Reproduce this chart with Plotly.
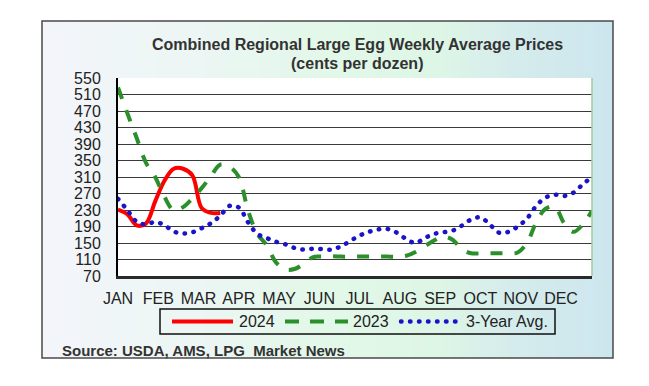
import plotly.graph_objects as go

# ---------------- data ----------------
weeks = list(range(52))
month_labels = ["JAN", "FEB", "MAR", "APR", "MAY", "JUN", "JUL", "AUG", "SEP", "OCT", "NOV", "DEC"]
month_pos = [i * 52 / 12 for i in range(12)]
y_ticks = list(range(70, 551, 40))

price_2024 = [231, 220, 193, 197, 251, 301, 330, 330, 314, 235, 223, 223]

price_2023 = [527, 465, 405, 345, 310, 262, 229, 237, 258, 283,
              312, 340, 335, 310, 228, 172, 145, 103, 86, 87,
              100, 116, 117, 118, 117, 117, 117, 117, 117, 117,
              117, 119, 128, 142, 156, 166, 158, 135, 125, 125,
              125, 125, 125, 127, 150, 200, 233, 238, 198, 177,
              195, 228]

avg_3yr = [257, 230, 202, 195, 201, 193, 178, 173, 176, 186,
           198, 216, 240, 236, 200, 172, 162, 153, 147, 138,
           134, 136, 135, 134, 142, 155, 168, 177, 183, 184,
           175, 160, 150, 162, 172, 176, 180, 192, 207, 212,
           195, 175, 177, 190, 209, 240, 260, 267, 264, 272,
           292, 310]

# ---------------- geometry helpers (pixel -> paper) ----------------
W, H = 649, 386
ML, MR, MT, MB = 118, 57, 78, 110
PW, PH = W - ML - MR, H - MT - MB


def px(x):
    return (x - ML) / PW


def py(y):
    return (H - MB - y) / PH


FONT = "Arial, Liberation Sans, sans-serif"
RED = "#ff0000"
GREEN = "#2b8f2b"
BLUE = "#1a14c8"
DOT = "0.5px,8.5px"

fig = go.Figure()
fig.add_trace(go.Scatter(x=weeks[:len(price_2024)], y=price_2024, mode="lines",
                         line=dict(color=RED, width=4, shape="spline"),
                         showlegend=False, hoverinfo="skip"))
fig.add_trace(go.Scatter(x=weeks, y=price_2023, mode="lines",
                         line=dict(color=GREEN, width=4, shape="spline", dash="12px,12px"),
                         showlegend=False, hoverinfo="skip"))
fig.add_trace(go.Scatter(x=weeks, y=avg_3yr, mode="lines",
                         line=dict(color=BLUE, width=4.5, shape="spline", dash=DOT),
                         showlegend=False, hoverinfo="skip"))

shapes = []
# background gradient of the chart frame
stops = [(42, (243, 245, 250)), (200, (236, 246, 244)), (330, (226, 248, 232)),
         (440, (222, 246, 230)), (500, (214, 237, 236)), (613, (205, 230, 238))]


def col_at(x):
    for (xa, ca), (xb, cb) in zip(stops[:-1], stops[1:]):
        if xa <= x <= xb:
            t = (x - xa) / (xb - xa)
            return tuple(round(ca[i] + (cb[i] - ca[i]) * t) for i in range(3))
    return stops[-1][1]


nstrip = 60
x0b, x1b = 42, 613
step = (x1b - x0b) / nstrip
for i in range(nstrip):
    xa = x0b + i * step
    c = col_at(xa + step / 2)
    shapes.append(dict(type="rect", xref="paper", yref="paper",
                       x0=px(xa), x1=px(min(xa + step + 0.8, x1b)), y0=py(358), y1=py(21),
                       fillcolor="rgb(%d,%d,%d)" % c, line=dict(width=0), layer="below"))
# plot area white
shapes.append(dict(type="rect", xref="paper", yref="paper", x0=0, x1=1, y0=0, y1=1,
                   fillcolor="white", line=dict(width=0), layer="below"))
# outer border
shapes.append(dict(type="rect", xref="paper", yref="paper", x0=px(42), x1=px(613), y0=py(358), y1=py(21),
                   fillcolor="rgba(0,0,0,0)", line=dict(color="#4a4a4a", width=1.5), layer="above"))
# right edge of plot area
shapes.append(dict(type="line", xref="paper", yref="paper", x0=1, x1=1, y0=0, y1=1,
                   line=dict(color="#9ccc9c", width=1.5), layer="above"))

# legend
shapes.append(dict(type="rect", xref="paper", yref="paper", x0=px(160), x1=px(555), y0=py(334), y1=py(309),
                   fillcolor="rgba(0,0,0,0)", line=dict(color="#111", width=1.5), layer="above"))
ly = py(321.5)
shapes.append(dict(type="line", xref="paper", yref="paper", x0=px(172), x1=px(233), y0=ly, y1=ly,
                   line=dict(color=RED, width=4)))
shapes.append(dict(type="line", xref="paper", yref="paper", x0=px(285), x1=px(348), y0=ly, y1=ly,
                   line=dict(color=GREEN, width=4, dash="14px,11px")))
shapes.append(dict(type="line", xref="paper", yref="paper", x0=px(401), x1=px(460), y0=ly, y1=ly,
                   line=dict(color=BLUE, width=4.5, dash=DOT)))

annotations = [
    dict(text="<b>Combined Regional Large Egg Weekly Average Prices</b>", x=px(357), y=py(44),
         xref="paper", yref="paper", showarrow=False, xanchor="center", yanchor="middle",
         font=dict(family=FONT, size=16, color="#333")),
    dict(text="<b>(cents per dozen)</b>", x=px(357), y=py(63),
         xref="paper", yref="paper", showarrow=False, xanchor="center", yanchor="middle",
         font=dict(family=FONT, size=16, color="#333")),
    dict(text="2024", x=px(237), y=ly, xref="paper", yref="paper", showarrow=False,
         xanchor="left", yanchor="middle", font=dict(family=FONT, size=16, color="#222")),
    dict(text="2023", x=px(351), y=ly, xref="paper", yref="paper", showarrow=False,
         xanchor="left", yanchor="middle", font=dict(family=FONT, size=16, color="#222")),
    dict(text="3-Year Avg.", x=px(464), y=ly, xref="paper", yref="paper", showarrow=False,
         xanchor="left", yanchor="middle", font=dict(family=FONT, size=16, color="#222")),
    dict(text="<b>Source: USDA, AMS, LPG  Market News</b>", x=px(60), y=py(350),
         xref="paper", yref="paper", showarrow=False, xanchor="left", yanchor="middle",
         font=dict(family=FONT, size=15, color="#333")),
]

fig.update_layout(
    width=W, height=H, autosize=False,
    margin=dict(l=ML, r=MR, t=MT, b=MB, pad=0),
    paper_bgcolor="white", plot_bgcolor="white",
    shapes=shapes, annotations=annotations,
    font=dict(family=FONT, size=16, color="#222"),
    xaxis=dict(range=[0, 51], tickvals=month_pos, ticktext=month_labels,
               showgrid=False, zeroline=False, showline=True, linecolor="#2a2a2a", linewidth=3,
               ticks="outside", ticklen=6, tickcolor="rgba(0,0,0,0)",
               tickfont=dict(family=FONT, size=16, color="#222"), fixedrange=True),
    yaxis=dict(range=[70, 550], tickvals=y_ticks, showgrid=True, gridcolor="#3a3a3a", gridwidth=1,
               zeroline=False, showline=True, linecolor="#000", linewidth=2,
               ticks="outside", ticklen=12, tickcolor="rgba(0,0,0,0)",
               tickfont=dict(family=FONT, size=16, color="#222"), fixedrange=True),
)

post = """
document.body.style.margin = '0';
document.body.style.overflow = 'hidden';
var gd = document.getElementById('{plot_id}');
gd.querySelectorAll('path').forEach(function (p) {
  var d = p.style.strokeDasharray || p.getAttribute('stroke-dasharray') || '';
  if (d.replace(/\\s/g, '').indexOf('0.5px,8.5px') === 0) {
    p.style.strokeLinecap = 'round';
  }
});
"""

fig.write_html("out.html", post_script=post, config={"staticPlot": True})
